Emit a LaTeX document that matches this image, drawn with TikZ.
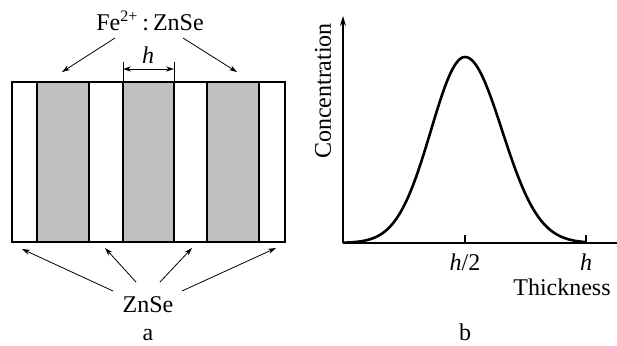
\documentclass[tikz,border=0pt]{standalone}
\usepackage{fontspec}
\setmainfont{Liberation Serif}
\usepackage{tikz}
\usetikzlibrary{arrows.meta,calc}
\definecolor{LayerGray}{HTML}{BFC0C2}

\begin{document}
\begin{tikzpicture}[
    x=0.5pt,y=-0.5pt,
    layer/.style={draw,line width=1pt,fill=LayerGray},
    lbl/.style={inner sep=0pt,anchor=base,font=\fontsize{12}{14}\selectfont},
    pointer/.style={-{Stealth[length=4pt,width=2.6pt]},line width=0.4pt},
    >=Stealth
  ]
  \useasboundingbox (0,0) rectangle (617,345);
  % (a) layered structure
  \draw[line width=1pt] (12,82) rectangle (285,242);
  \foreach \xa/\xb in {37/89,123/174,207/259}
    \draw[layer] (\xa,82) rectangle (\xb,242);
  \draw[line width=0.5pt] (123,62) -- (123,82) (174,62) -- (174,82);
  \coordinate (hl) at (123,69);
  \coordinate (hr) at (174,69);
  \draw[pointer,{Stealth[length=4pt,width=2.6pt]}-{Stealth[length=4pt,width=2.6pt]}] (hl) -- (hr);
  \node[lbl] (hdim) at (148,63) {\textit{h}};

  \node[lbl] (dopant) at (150,30) {Fe\textsuperscript{2+}\,:\,ZnSe};
  \coordinate (dl) at (62,72);
  \coordinate (dr) at (237,72);
  \draw[pointer] ($(dopant.base)+(-35,8)$) -- (dl);
  \draw[pointer] ($(dopant.base)+(33,8)$) -- (dr);

  \node[lbl] (host) at (148,312) {ZnSe};
  \coordinate (s1) at (22,249);
  \coordinate (s2) at (105,248);
  \coordinate (s3) at (192,248);
  \coordinate (s4) at (276,248);
  \draw[pointer] ($(host.base)+(-35,-21)$) -- (s1);
  \draw[pointer] ($(host.base)+(-12,-30)$) -- (s2);
  \draw[pointer] ($(host.base)+(12,-30)$) -- (s3);
  \draw[pointer] ($(host.base)+(34,-21)$) -- (s4);
  \node[lbl] (capa) at (148,340) {a};

  % (b) concentration profile
  \coordinate (O) at (343,243);
  \coordinate (ytop) at (343,16);
  \coordinate (xend) at (617,243);
  \draw[line width=0.6pt,-{Stealth[length=5pt,width=3pt]}] (O) -- (ytop);
  \draw[line width=0.6pt] (O) -- (xend);
  \draw[line width=0.6pt] (465,243) -- (465,235) (586,243) -- (586,235);
  \draw[line width=1.3pt,line join=round]
    plot[domain=-122:0,samples=70] ({465+\x},{243-186*exp(-(\x)^2/(2*34^2))})
    -- plot[domain=0:121,samples=70] ({465+\x},{243-186*exp(-(\x)^2/(2*37^2))});
  \node[lbl] (half) at (465,270) {\textit{h}/2};
  \node[lbl] (full) at (586,270) {\textit{h}};
  \node[lbl] (xlab) at (562,295) {Thickness};
  \node[lbl,rotate=90,anchor=center] (ylab) at (323,91) {Concentration};
  \node[lbl] (capb) at (465,340) {b};
\end{tikzpicture}
\end{document}
